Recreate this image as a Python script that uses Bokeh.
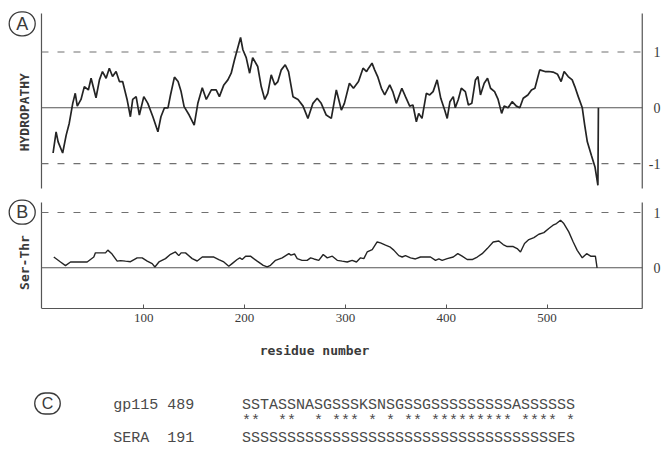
import math
from bokeh.plotting import figure
from bokeh.models import Range1d, LinearAxis, Label, FixedTicker, Grid
from bokeh.layouts import column
from bokeh.embed import file_html
from bokeh.resources import INLINE
from bokeh.core.properties import value

# ---------------- data ----------------
hyd_res = [10, 13, 15, 19.5, 23, 26, 29.5, 32, 34, 37.7, 41, 45, 47.7, 52.6, 56, 59, 62.6, 65.8, 69, 72.5,
           75.8, 79, 83.4, 86.7, 89, 92.4, 95.6, 100, 104, 109, 114, 117, 120.5, 124, 126.5, 130.4, 134, 137,
           140, 145, 150, 153.6, 158, 162, 167, 171.8, 175, 179.4, 183.4, 186.7, 190, 192.7, 196, 198.3,
           201.6, 205, 208, 213, 216.5, 220, 223, 226.4, 230, 233, 236.4, 240.3, 243.6, 248, 253, 258,
           262.8, 267.8, 272, 276, 281, 286, 291, 296, 299, 304, 308, 313, 317.5, 321, 323, 326.4, 329,
           332, 335.7, 339, 344, 347, 350.5, 356, 359.6, 363.8, 367, 370.4, 372.7, 376, 380.3, 383.6, 387,
           391, 394.6, 398.5, 401, 403.7, 407, 409, 412, 415, 419, 422, 425.4, 429, 431.5, 434, 437.7, 441,
           444, 448, 451.5, 455, 457.5, 461.4, 465.4, 469.6, 473, 476.4, 481, 484.6, 488, 492.8, 498,
           501.8, 506, 510.5, 514, 517, 521, 525, 527.6, 531, 535, 537.4, 540, 544, 547.6, 550.5, 551]
hyd_val = [-0.81, -0.43, -0.61, -0.81, -0.49, -0.28, 0.08, 0.26, 0.03, 0.15, 0.38, 0.32, 0.53, 0.18, 0.5,
           0.65, 0.53, 0.71, 0.56, 0.65, 0.47, 0.47, 0.15, -0.16, 0.15, 0.2, -0.13, 0.2, 0.08, -0.16, -0.43,
           -0.16, 0.0, 0.0, 0.23, 0.55, 0.47, 0.29, 0.02, -0.13, -0.31, 0.08, 0.36, 0.15, 0.32, 0.32, 0.2,
           0.41, 0.5, 0.62, 0.86, 1.04, 1.26, 1.04, 0.9, 0.62, 0.9, 0.74, 0.38, 0.15, 0.26, 0.59, 0.41, 0.47,
           0.68, 0.77, 0.65, 0.2, 0.15, 0.03, -0.19, 0.08, 0.17, 0.08, -0.13, -0.19, 0.32, -0.04, 0.08, 0.44,
           0.35, 0.47, 0.71, 0.65, 0.71, 0.8, 0.68, 0.56, 0.35, 0.23, 0.41, 0.29, 0.08, 0.35, 0.2, 0.03,
           0.05, -0.25, -0.1, -0.19, 0.26, 0.23, 0.29, 0.5, 0.17, -0.04, -0.19, 0.11, 0.2, 0.0, 0.15, 0.35,
           0.29, 0.05, 0.08, 0.5, 0.56, 0.23, 0.44, 0.53, 0.35, 0.29, 0.15, -0.1, 0.03, 0.0, 0.11, 0.03,
           0.0, 0.17, 0.23, 0.32, 0.35, 0.68, 0.65, 0.65, 0.64, 0.6, 0.47, 0.65, 0.56, 0.5, 0.38, 0.2, 0.0,
           -0.31, -0.61, -0.85, -1.06, -1.39, 0.0]

st_res = [10.7, 17.4, 22.3, 27.3, 43.8, 50.4, 52, 62, 64.3, 68, 73.6, 77, 81.8, 86.8, 93.4, 98.4, 103.4,
          108.3, 111, 115, 121.5, 126.5, 131.4, 134.7, 137, 141.4, 148, 153, 158, 169.5, 174.4, 179.4,
          184.3, 187.6, 192.6, 195.3, 197.6, 201, 205.8, 212.5, 218.5, 222.4, 225.7, 230.7, 237.3, 243.9,
          246, 249.5, 252.2, 257, 262, 265.5, 268.8, 273.6, 278, 282, 287, 291.9, 296.8, 301.8, 306.7,
          311, 315, 318.3, 321.6, 326.6, 331.5, 334.8, 339.8, 344, 348, 353, 356.3, 359.6, 364.6, 369.5,
          374.5, 384.4, 389.4, 392.7, 396, 401, 407, 411.5, 415.8, 420.8, 425.8, 430.8, 435.7, 440.7,
          446.6, 452.2, 456.5, 460.5, 466.5, 470.4, 473.7, 477.7, 482, 487, 491.9, 496.9, 501.8, 506,
          509.4, 513.4, 516.7, 521.6, 525.9, 530, 535, 539.3, 543.3, 548, 549.7]
st_val = [0.195, 0.105, 0.04, 0.105, 0.105, 0.195, 0.27, 0.27, 0.32, 0.26, 0.12, 0.13, 0.12, 0.11, 0.18,
          0.18, 0.12, 0.076, 0.015, 0.105, 0.166, 0.244, 0.286, 0.22, 0.27, 0.27, 0.166, 0.123, 0.195,
          0.195, 0.15, 0.105, 0.027, 0.076, 0.15, 0.18, 0.15, 0.21, 0.21, 0.12, 0.045, 0.015, 0.045, 0.135,
          0.18, 0.256, 0.23, 0.25, 0.166, 0.135, 0.135, 0.18, 0.16, 0.135, 0.24, 0.18, 0.21, 0.135, 0.12,
          0.105, 0.135, 0.105, 0.18, 0.166, 0.286, 0.33, 0.467, 0.45, 0.41, 0.38, 0.32, 0.22, 0.195, 0.22,
          0.18, 0.16, 0.195, 0.195, 0.135, 0.16, 0.135, 0.166, 0.195, 0.256, 0.21, 0.15, 0.15, 0.195,
          0.256, 0.347, 0.467, 0.485, 0.42, 0.385, 0.385, 0.347, 0.286, 0.44, 0.51, 0.546, 0.606, 0.636,
          0.71, 0.77, 0.80, 0.86, 0.80, 0.65, 0.47, 0.316, 0.18, 0.256, 0.21, 0.21, 0.0]

x_ticks = [100, 200, 300, 400, 500]
hyd_levels = [1, 0, -1]
hyd_level_labels = ["1", "0", "-1"]
st_levels = [1, 0]
st_level_labels = ["1", "0"]

seq_gp115 = "SSTASSNASGSSSKSNSGSSGSSSSSSSSSASSSSSS"
seq_match = "**  **  * *** * * ** ********* **** *"
seq_sera = "SSSSSSSSSSSSSSSSSSSSSSSSSSSSSSSSSSSES"
row_names = ["gp115 489", "SERA  191"]

# ---------------- geometry / styling ----------------
W = 661
PX = 1.008            # pixels per residue
X0 = 42.5             # pixel column of residue 0
XR_DATA = (-X0 / PX, (W - X0) / PX)   # frame spans the full page width
XL, XRT = -1.5, 594.5                 # residue positions of the left / right axis lines
CURVE = "#242424"
AXIS = "#555555"
DASH = "#707070"
TXT = "#3a3a3a"
NB = "\u00a0"


def keep_spaces(s):
    return s.replace(" ", NB)


def base_fig(height, yr, top=0, bottom=0, xr=XR_DATA):
    p = figure(width=W, height=height, x_range=Range1d(*xr), y_range=Range1d(*yr),
               output_backend="svg", toolbar_location=None, title=None,
               x_axis_location=None, y_axis_location=None,
               min_border_left=0, min_border_right=0, min_border_top=top, min_border_bottom=bottom)
    for g in p.select(type=Grid):
        g.visible = False
    p.outline_line_color = None
    p.background_fill_color = "white"
    p.border_fill_color = "white"
    return p


def frame_lines(p, ytop, ybot, levels):
    # vertical axis lines
    p.segment(x0=[XL, XRT], x1=[XL, XRT], y0=[ytop, ytop], y1=[ybot, ybot],
              line_color=AXIS, line_width=1.2)
    dashed = [lv for lv in levels if lv != 0]
    p.segment(x0=[XL] * len(dashed), x1=[XRT] * len(dashed), y0=dashed, y1=dashed,
              line_color=DASH, line_width=1.2, line_dash="7 9")
    p.segment(x0=[XL], x1=[XRT], y0=[0], y1=[0], line_color=AXIS, line_width=1.1)


def level_labels(p, levels, labels):
    p.text(x=[(660 - X0) / PX] * len(levels), y=levels, text=labels,
           text_font=value("Liberation Serif"), text_font_size="14px", text_color=TXT,
           text_align="right", text_baseline="middle")


def circled(p, letter, x, y, size="18px", rad=13):
    p.add_layout(Label(x=x, y=y, x_units="data", y_units="data", text=letter,
                       text_font="Liberation Sans", text_font_size=size, text_color=TXT,
                       text_align="center", text_baseline="middle",
                       border_line_color=TXT, border_line_width=1.3, border_radius=rad,
                       padding=dict(left=7, right=7, top=2, bottom=2)))


def side_title(p, text, y):
    p.text(x=[(24 - X0) / PX], y=[y], text=[text], angle=math.pi / 2,
           text_font=value("DejaVu Sans Mono"), text_font_style="bold", text_font_size="13px",
           text_color=TXT, text_align="center", text_baseline="middle")


# ---------------- panel A ----------------
A0, AS = 107.3, 55.8          # pixel row of 0 and pixels per unit
pa = base_fig(196, ((A0 - 196) / AS, A0 / AS))
frame_lines(pa, (A0 - 13) / AS, (A0 - 188) / AS, hyd_levels)
pa.line(hyd_res, hyd_val, line_color=CURVE, line_width=1.7)
level_labels(pa, hyd_levels, hyd_level_labels)
circled(pa, "A", (21.7 - X0) / PX, (A0 - 23.3) / AS)
side_title(pa, "HYDROPATHY", (A0 - 111.7) / AS)

# ---------------- panel B ----------------
B0, BS = 267.3, 55.3
pb = base_fig(137, ((B0 - 308) / BS, (B0 - 196) / BS), top=0, bottom=25)
frame_lines(pb, (B0 - 202) / BS, (B0 - 308) / BS, st_levels)
xb = LinearAxis(ticker=FixedTicker(ticks=x_ticks), bounds=(XL, XRT), major_tick_in=4, major_tick_out=0,
                major_tick_line_color=AXIS, minor_tick_line_color=None, axis_line_color=AXIS,
                axis_line_width=1.2, major_label_standoff=5,
                major_label_text_font="Liberation Serif", major_label_text_font_size="13px",
                major_label_text_color=TXT)
pb.add_layout(xb, "below")
pb.line(st_res, st_val, line_color=CURVE, line_width=1.4)
level_labels(pb, st_levels, st_level_labels)
circled(pb, "B", (21.7 - X0) / PX, (B0 - 211.7) / BS)
side_title(pb, "Ser-Thr", (B0 - 262) / BS)

# ---------------- panel C (text block) ----------------
# x data = page pixel column, y data = pixels below the top of this block (page row 333)
pc = base_fig(137, (137, 0), xr=(0, W))
pc.text(x=[314], y=[17], text=["residue number"], text_font=value("DejaVu Sans Mono"),
        text_font_style="bold", text_font_size="13px", text_color=TXT,
        text_align="center", text_baseline="middle")
circled(pc, "C", 47, 70, size="16px", rad=11)
mono = dict(text_font=value("Liberation Mono"), text_font_size="15px", text_color="#4a4a4a",
            text_align="left", text_baseline="middle")
pc.text(x=[112.7, 112.7], y=[72, 105], text=[keep_spaces(s) for s in row_names], **mono)
pc.text(x=[241.5, 241.5, 241.5], y=[72, 88, 105],
        text=[keep_spaces(s) for s in (seq_gp115, seq_match, seq_sera)], **mono)

layout = column(pa, pb, pc, spacing=0)
open("out.html", "w").write(file_html(layout, INLINE))
